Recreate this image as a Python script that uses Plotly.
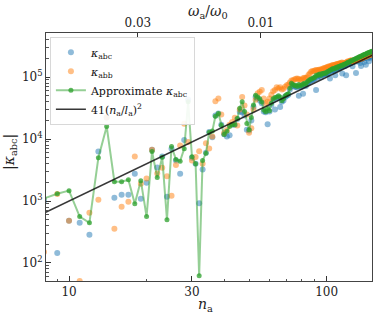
import numpy as np
import plotly.graph_objects as go

n_a = list(range(8, 151))

kappa_abc = [
    1000, 145, 480, 445, 284, 6300, 22400, 1130, 1260, 1260, 2760, 1090, 1980, 6700, 3460,
    5220, 1170, 7000, 4500, 2750, 9700, 43700, 5000, 4000, 916, 3240, 6000, 13000, 10700,
    24000, 26000, 17000, 12000, 11000, 11500, 17000, 17000, 21000, 27500, 27000, 24000, 14100, 13800,
    20000, 33000, 48000, 45000, 42000, 38000, 28000, 27000, 17300, 28000, 36000, 42000, 30000, 45000,
    47000, 33000, 40000, 42000, 48000, 50000, 52000, 63000, 76000, 72000, 70000, 70000, 68000, 50000,
    70000, 70000, 54000, 75000, 72000, 80000, 82000, 86000, 88000, 90000, 92000, 95000, 62000, 98000,
    104000, 106000, 100000, 108000, 110000, 112000, 110000, 115000, 116000, 118000, 95000, 125000,
    128000, 130000, 128000, 107000, 137000, 134000, 140000, 140000, 143000, 146000, 115000, 150000,
    153000, 152000, 107000, 160000, 164000, 163000, 167000, 170000, 172000, 150000, 176000, 180000,
    178000, 117000, 185000, 180000, 188000, 190000, 170000, 151000, 195000, 198000, 200000, 175000,
    205000, 158000, 210000, 200000, 215000, 180000, 218000, 205000, 220000, 210000,
]

kappa_abb = [
    150, 1300, 480, 51, 646, 1050, 22400, 355, 807, 975, 5230, 1900, 2300, 6700, 2770,
    3430, 2510, 1220, 3820, 7900, 17700, 9000, 4500, 5140, 6330, 4000, 8580, 7070, 11000,
    41000, 45000, 25000, 12500, 14000, 17000, 18800, 22000, 16600, 30000, 48000, 35000, 25000, 12600,
    15000, 30000, 43000, 55000, 58000, 62000, 45000, 38000, 40000, 45000, 52000, 59000, 62000, 69000,
    66000, 69000, 63000, 65000, 70000, 74000, 76000, 82000, 88000, 89000, 92000, 94000, 95000, 93000,
    90000, 92000, 96000, 98000, 97000, 100000, 108000, 115000, 122000, 126000, 124000, 128000, 130000, 129000,
    131000, 133000, 132000, 136000, 138000, 141000, 140000, 145000, 147000, 148000, 150000, 152000,
    155000, 157000, 156000, 159000, 162000, 163000, 165000, 166000, 168000, 171000, 172000, 165000,
    169000, 168000, 172000, 176000, 180000, 179000, 183000, 186000, 188000, 178000, 181000, 184000,
    183000, 187000, 190000, 189000, 194000, 198000, 197000, 202000, 201000, 206000, 210000, 209000,
    214000, 213000, 219000, 223000, 222000, 228000, 227000, 233000, 232000, 238000,
]

approx_abc = [
    1100, 1310, 1470, 560, 445, 5000, 16000, 2050, 2050, 2200, 900, 2130, 560, 6300, 2400,
    5100, 500, 7600, 4700, 4400, 7000, 40000, 5200, 4000, 62, 4500, 5900, 12900, 13500,
    23300, 25900, 16700, 11800, 13400, 16000, 17000, 17000, 21400, 31600, 40000, 28000, 17800, 14100,
    22400, 35500, 51000, 48000, 44700, 39800, 29500, 27500, 31600, 28800, 38000, 44700, 46800, 47900,
    50100, 47900, 41700, 44700, 50100, 52500, 53700, 66100, 79400, 75900, 72400, 74100, 70800, 75900,
    72400, 74100, 77600, 79400, 75900, 83200, 87100, 91200, 93300, 95500, 97700, 100000, 107000, 105000,
    110000, 112000, 107000, 115000, 115000, 117000, 115000, 120000, 123000, 126000, 129000, 132000,
    135000, 138000, 135000, 141000, 145000, 141000, 148000, 148000, 151000, 155000, 151000, 158000,
    162000, 162000, 166000, 170000, 174000, 174000, 178000, 182000, 186000, 186000, 191000, 195000,
    195000, 200000, 204000, 204000, 209000, 214000, 214000, 219000, 219000, 224000, 229000, 229000,
    234000, 234000, 240000, 245000, 245000, 251000, 251000, 257000, 257000, 263000,
]

fit_coef = 41.0
l_a = 2.03
fit_n = np.linspace(7.5, 160, 50)
fit_k = fit_coef * (fit_n / l_a) ** 2

omega_ticks = [0.03, 0.01]
omega_const = 0.555

FONT = "DejaVu Serif"
W, H = 374, 318
ML, MR, MT, MB = 46, 2, 33, 37
PW, PH = W - ML - MR, H - MT - MB


def px_to_paper(px, py):
    return (px - ML) / PW, (H - py - MB) / PH


fig = go.Figure()
fig.add_trace(go.Scatter(
    x=n_a, y=kappa_abc, mode="markers", name="<i>κ</i><sub>abc</sub>",
    marker=dict(color="#1f77b4", size=6, opacity=0.5, line=dict(width=0)),
))
fig.add_trace(go.Scatter(
    x=n_a, y=kappa_abb, mode="markers", name="<i>κ</i><sub>abb</sub>",
    marker=dict(color="#ff7f0e", size=6, opacity=0.5, line=dict(width=0)),
))
fig.add_trace(go.Scatter(
    x=n_a, y=approx_abc, mode="lines+markers", name="Approximate <i>κ</i><sub>abc</sub>",
    line=dict(color="rgba(44,160,44,0.5)", width=2),
    marker=dict(color="rgba(44,160,44,0.75)", size=5, line=dict(width=0)),
))
fig.add_trace(go.Scatter(
    x=fit_n, y=fit_k, mode="lines",
    name="41(<i>n</i><sub>a</sub>/<i>l</i><sub>a</sub>)<sup>2</sup>",
    line=dict(color="rgba(20,20,20,0.85)", width=1.6),
))
# invisible trace to activate the top axis
fig.add_trace(go.Scatter(
    x=[omega_const / w for w in omega_ticks], y=[1000, 1000], xaxis="x2",
    mode="markers", marker=dict(opacity=0), showlegend=False, hoverinfo="skip",
))

xr = [np.log10(8.14), np.log10(150)]
axis_common = dict(
    showgrid=False, zeroline=False, showline=True, linecolor="#444", linewidth=1,
    ticks="inside", ticklen=5, tickcolor="#333", tickwidth=1, automargin=False,
    tickfont=dict(family=FONT, size=12, color="#222"),
)

ann = []
for text, px, py, ang in [
    ("<i>n</i><sub>a</sub>", 205, 305, 0),
    ("<i>ω</i><sub>a</sub>/<i>ω</i><sub>0</sub>", 208, 12, 0),
    ("|<i>κ</i><sub>abc</sub>|", 10, 152, -90),
]:
    ax_, ay_ = px_to_paper(px, py)
    ann.append(dict(text=text, x=ax_, y=ay_, xref="paper", yref="paper",
                    xanchor="center", yanchor="middle", textangle=ang,
                    showarrow=False, font=dict(family=FONT, size=14, color="#222")))

fig.update_layout(
    width=W, height=H,
    margin=dict(l=ML, r=MR, t=MT, b=MB),
    paper_bgcolor="white", plot_bgcolor="white",
    font=dict(family=FONT, size=12, color="#222"),
    showlegend=True,
    legend=dict(
        x=0.012, y=0.985, xanchor="left", yanchor="top",
        bgcolor="rgba(255,255,255,0.9)", bordercolor="#d8d8d8", borderwidth=1,
        font=dict(family=FONT, size=11, color="#111"),
        tracegroupgap=0, itemwidth=30,
    ),
    xaxis=dict(
        type="log", range=xr, mirror=True,
        tickvals=[10, 30, 100], ticktext=["10", "30", "100"],
        minor=dict(ticks="inside", ticklen=2.5, tickcolor="#555",
                   tickvals=[9, 20, 40, 50, 60, 70, 80, 90]),
        **axis_common,
    ),
    xaxis2=dict(
        type="log", range=xr, overlaying="x", side="top",
        tickvals=[omega_const / w for w in omega_ticks], ticktext=["0.03", "0.01"],
        **axis_common,
    ),
    yaxis=dict(
        type="log", range=[1.708, 5.713], mirror=True,
        tickvals=[100, 1000, 10000, 100000],
        ticktext=["10<sup>2</sup>", "10<sup>3</sup>", "10<sup>4</sup>", "10<sup>5</sup>"],
        minor=dict(ticks="inside", ticklen=2.5, tickcolor="#555", dtick="D1"),
        **axis_common,
    ),
    annotations=ann,
)

fig.write_html("out.html", config={"displayModeBar": False},
               post_script="document.body.style.margin='0';")
